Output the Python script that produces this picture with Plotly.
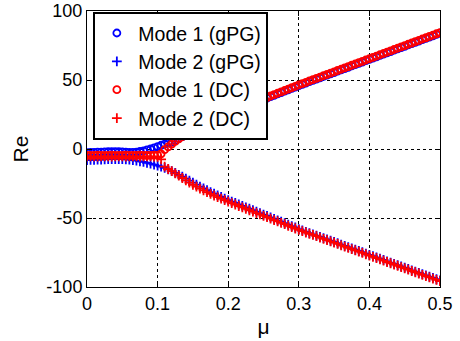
import plotly.graph_objects as go

# mu grid (step 0.005 from 0 to 0.5)
mu = [round(i * 0.005, 3) for i in range(101)]

mode1_gpg = [-2.6, -2.5, -2.4, -2.3, -2.2, -2.1, -2.0, -2.0, -1.9, -2.0,
             -2.1, -2.3, -2.4, -2.4, -2.2, -1.8, -1.3, -0.7, 0.0, 0.8,
             1.7, 2.7, 3.6, 4.3, 5.0, 6.3, 7.6, 8.9, 10.2, 11.5,
             12.9, 14.3, 15.6, 16.9, 18.2, 19.4, 20.6, 21.8, 23.0, 24.1,
             25.2, 26.3, 27.4, 28.5, 29.5, 30.6, 31.6, 32.7, 33.7, 34.8,
             35.8, 36.8, 37.9, 38.9, 39.9, 40.9, 41.9, 42.9, 43.9, 44.9,
             45.9, 46.9, 47.8, 48.8, 49.7, 50.7, 51.6, 52.6, 53.5, 54.5,
             55.4, 56.4, 57.3, 58.3, 59.2, 60.2, 61.1, 62.1, 63.0, 64.0,
             64.9, 65.9, 66.8, 67.8, 68.7, 69.7, 70.6, 71.6, 72.5, 73.5,
             74.4, 75.4, 76.3, 77.3, 78.2, 79.2, 80.1, 81.1, 82.0, 83.0,
             83.9]

mode2_gpg = [-8.0, -7.9, -7.8, -7.7, -7.6, -7.5, -7.4, -7.3, -7.3, -7.3,
             -7.4, -7.5, -7.7, -8.0, -8.4, -8.9, -9.4, -10.0, -10.6, -11.3,
             -12.0, -12.8, -13.7, -14.8, -16.0, -17.3, -18.7, -20.1, -21.5, -22.9,
             -24.3, -25.8, -27.2, -28.6, -29.9, -31.2, -32.4, -33.6, -34.8, -35.9,
             -37.0, -38.1, -39.1, -40.2, -41.2, -42.3, -43.3, -44.4, -45.4, -46.4,
             -47.5, -48.5, -49.6, -50.6, -51.7, -52.7, -53.8, -54.8, -55.9, -56.9,
             -58.0, -59.0, -60.0, -60.9, -61.8, -62.7, -63.7, -64.6, -65.5, -66.5,
             -67.4, -68.3, -69.3, -70.2, -71.1, -72.1, -73.0, -73.9, -74.8, -75.8,
             -76.7, -77.6, -78.6, -79.5, -80.4, -81.4, -82.3, -83.2, -84.1, -85.1,
             -86.0, -86.9, -87.9, -88.8, -89.7, -90.7, -91.6, -92.5, -93.4, -94.4,
             -95.3]

mode1_dc = [-4.6, -4.7, -4.6, -4.5, -4.6, -4.7, -4.6, -4.5, -4.6, -4.7,
            -4.6, -4.5, -4.6, -4.7, -4.6, -4.5, -4.6, -4.7, -4.6, -4.5,
            -4.4, -3.5, -0.5, 1.5, 3.5, 5.5, 7.3, 9.0, 10.6, 12.0,
            13.4, 14.8, 16.1, 17.4, 18.7, 19.9, 21.1, 22.3, 23.5, 24.6,
            25.7, 26.8, 27.9, 29.0, 30.0, 31.1, 32.1, 33.2, 34.2, 35.3,
            36.3, 37.3, 38.4, 39.4, 40.4, 41.4, 42.4, 43.4, 44.4, 45.4,
            46.4, 47.4, 48.3, 49.3, 50.2, 51.2, 52.1, 53.1, 54.0, 55.0,
            55.9, 56.9, 57.8, 58.8, 59.7, 60.7, 61.6, 62.6, 63.5, 64.5,
            65.4, 66.4, 67.3, 68.3, 69.2, 70.2, 71.1, 72.1, 73.0, 74.0,
            74.9, 75.9, 76.8, 77.8, 78.7, 79.7, 80.6, 81.6, 82.5, 83.5,
            84.4]

mode2_dc = [-5.4, -5.3, -5.4, -5.5, -5.4, -5.3, -5.4, -5.5, -5.4, -5.3,
            -5.4, -5.5, -5.4, -5.3, -5.4, -5.5, -5.4, -5.3, -5.4, -5.5,
            -5.6, -7.5, -12.8, -14.5, -16.0, -17.6, -19.3, -21.0, -22.7, -24.3,
            -25.9, -27.3, -28.7, -30.0, -31.3, -32.5, -33.7, -34.9, -36.0, -37.1,
            -38.2, -39.2, -40.2, -41.3, -42.3, -43.3, -44.4, -45.4, -46.4, -47.4,
            -48.4, -49.4, -50.5, -51.5, -52.5, -53.5, -54.5, -55.6, -56.6, -57.6,
            -58.6, -59.5, -60.5, -61.4, -62.3, -63.2, -64.2, -65.1, -66.0, -67.0,
            -67.9, -68.8, -69.8, -70.7, -71.6, -72.6, -73.5, -74.4, -75.3, -76.3,
            -77.2, -78.1, -79.1, -80.0, -80.9, -81.9, -82.8, -83.7, -84.6, -85.6,
            -86.5, -87.4, -88.4, -89.3, -90.2, -91.2, -92.1, -93.0, -93.9, -94.9,
            -95.8]

x_ticks = [0, 0.1, 0.2, 0.3, 0.4, 0.5]
x_labels = ["0", "0.1", "0.2", "0.3", "0.4", "0.5"]
y_ticks = [-100, -50, 0, 50, 100]
y_labels = ["-100", "-50", "0", "50", "100"]

BLUE = "#0000FF"
RED = "#FF0000"
FONT = "Liberation Sans, Arial, sans-serif"

fig = go.Figure()
series = [
    ("Mode 1 (gPG)", mode1_gpg, BLUE, "circle-open"),
    ("Mode 2 (gPG)", mode2_gpg, BLUE, "cross-thin-open"),
    ("Mode 1 (DC)", mode1_dc, RED, "circle-open"),
    ("Mode 2 (DC)", mode2_dc, RED, "cross-thin-open"),
]
for name, vals, col, sym in series:
    fig.add_trace(go.Scatter(
        x=mu, y=vals, mode="markers", name=name,
        marker=dict(symbol=sym, size=7, color=col, line=dict(color=col, width=1.8)),
    ))

axis_common = dict(
    showline=True, linecolor="black", linewidth=1, mirror="ticks",
    ticks="inside", ticklen=5, tickcolor="black",
    showgrid=True, gridcolor="black", griddash="dot", gridwidth=1,
    zeroline=False, automargin=False, ticklabeloverflow="allow",
    tickfont=dict(family=FONT, size=18, color="black"),
)
fig.update_xaxes(range=[0, 0.5], tickvals=x_ticks, ticktext=x_labels,
                 title=dict(text="μ", font=dict(family=FONT, size=21, color="black"), standoff=6),
                 **axis_common)
fig.update_yaxes(range=[-100, 100], tickvals=y_ticks, ticktext=y_labels,
                 title=dict(text="Re", font=dict(family=FONT, size=21, color="black"), standoff=12),
                 **axis_common)

fig.update_layout(
    width=460, height=341,
    margin=dict(l=87, r=20, t=11, b=54),
    paper_bgcolor="white", plot_bgcolor="white",
    font=dict(family=FONT, color="black"),
    legend=dict(
        x=0.018, y=0.997, xanchor="left", yanchor="top",
        bgcolor="white", bordercolor="black", borderwidth=2,
        font=dict(family=FONT, size=19.5, color="black"),
        tracegroupgap=0, itemwidth=33,
    ),
    showlegend=True,
)

# remove the default 8px page margin so the figure fills the 460x341 window
fig.write_html(
    "out.html",
    config={"displayModeBar": False},
    post_script="document.body.style.margin='0';document.body.style.overflow='hidden';",
)
